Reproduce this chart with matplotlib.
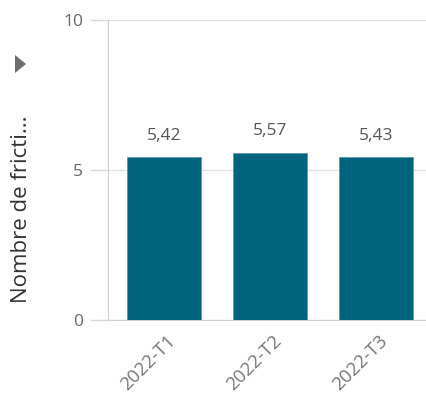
import matplotlib
matplotlib.use("Agg")
import matplotlib.pyplot as plt
from matplotlib.patches import Polygon
from matplotlib.transforms import ScaledTranslation

# trimestres et valeurs
periods = ["2022-T1", "2022-T2", "2022-T3"]
values = [5.42, 5.57, 5.43]
yticks = [0, 5, 10]

W, H = 426, 405
fig = plt.figure(figsize=(W / 100, H / 100), dpi=100)
plt.rcParams["font.family"] = ["Open Sans", "DejaVu Sans"]

# axes placed in pixel coordinates
left, right, top, bottom = 108, 426, 20, 320
ax = fig.add_axes([left / W, 1 - bottom / H, (right - left) / W, (bottom - top) / H])

x = range(len(periods))
ax.bar(x, values, width=0.7, color="#00647e", edgecolor="#5a9aab", linewidth=0.6, zorder=3)
for xi, v in zip(x, values):
    ax.text(xi, v + 0.45, f"{v:.2f}".replace(".", ","), ha="center", va="bottom",
            fontsize=12.5, color="#555555")

ax.set_xlim(-0.53, 2.47)
ax.set_ylim(0, 10)
ax.set_yticks(yticks)
ax.set_yticklabels([str(t) for t in yticks], fontsize=12.5, color="#666666")
ax.tick_params(axis="y", length=13, color="#d9d9d9", width=1, pad=5)
ax.tick_params(axis="x", length=0, pad=13)
ax.set_xticks(list(x))
ax.set_xticklabels(periods, rotation=45, ha="right", va="center", rotation_mode="anchor",
                   fontsize=13.5, color="#777777")
shift = ScaledTranslation(0.09, 0, fig.dpi_scale_trans)
for lbl in ax.get_xticklabels():
    lbl.set_transform(lbl.get_transform() + shift)
ax.grid(axis="y", color="#e3e3e3", linewidth=1, zorder=0)

for s in ["top", "right"]:
    ax.spines[s].set_visible(False)
ax.spines["left"].set_color("#cfcfcf")
ax.spines["bottom"].set_color("#d0d0d0")

fig.text(22 / W, 1 - 209 / H, "Nombre de fricti...", rotation=90, ha="center", va="center",
         fontsize=16, color="#333333")

# small expand arrow
tri = [(15 / W, 1 - 55 / H), (26 / W, 1 - 64 / H), (15 / W, 1 - 73 / H)]
fig.add_artist(Polygon(tri, closed=True, transform=fig.transFigure,
                       facecolor="#6e6e6e", edgecolor="none"))

fig.savefig("out.png", dpi=100, facecolor="white")
